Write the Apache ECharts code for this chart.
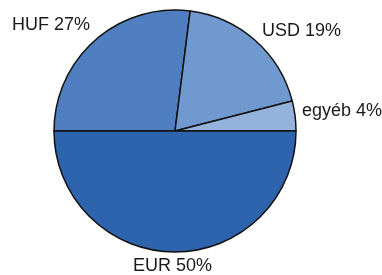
<!DOCTYPE html>
<html>
<head>
<meta charset="utf-8">
<script src="https://cdn.jsdelivr.net/npm/echarts@6/dist/echarts.min.js"></script>
<style>
html,body{margin:0;padding:0;background:#fff;}
#chart{width:382px;height:275px;}
</style>
</head>
<body>
<div id="chart"></div>
<script>
// devizák megoszlása
var names = ['HUF', 'USD', 'egyéb', 'EUR'];
var shares = [27, 19, 4, 50];
var colors = ['#4f7fc0', '#7099cf', '#95b2dc', '#2e64ae'];

// címkék helye (x, y, igazítás)
var labelPos = [
    [12, 25, 'left'],
    [262, 31, 'left'],
    [302, 111, 'left'],
    [133, 266, 'left']
];

var chart = echarts.init(document.getElementById('chart'));
var option = {
    animation: false,
    series: [
        {
            type: 'pie',
            center: [175, 131],
            radius: 121,
            startAngle: 180,
            clockwise: true,
            data: names.map(function (n, i) {
                return {name: n, value: shares[i], itemStyle: {color: colors[i]}};
            }),
            itemStyle: {
                borderColor: '#111',
                borderWidth: 1.5
            },
            label: {
                show: true,
                position: 'inside',
                formatter: '{b} {c}%',
                fontFamily: 'Liberation Sans, Arial',
                fontSize: 18,
                color: '#1a1a1a',
                overflow: 'none'
            },
            labelLine: {show: false},
            labelLayout: function (p) {
                var pos = labelPos[p.dataIndex];
                return {x: pos[0], y: pos[1], align: pos[2], verticalAlign: 'middle'};
            },
            emphasis: {disabled: true}
        }
    ]
};
chart.setOption(option);
</script>
</body>
</html>
